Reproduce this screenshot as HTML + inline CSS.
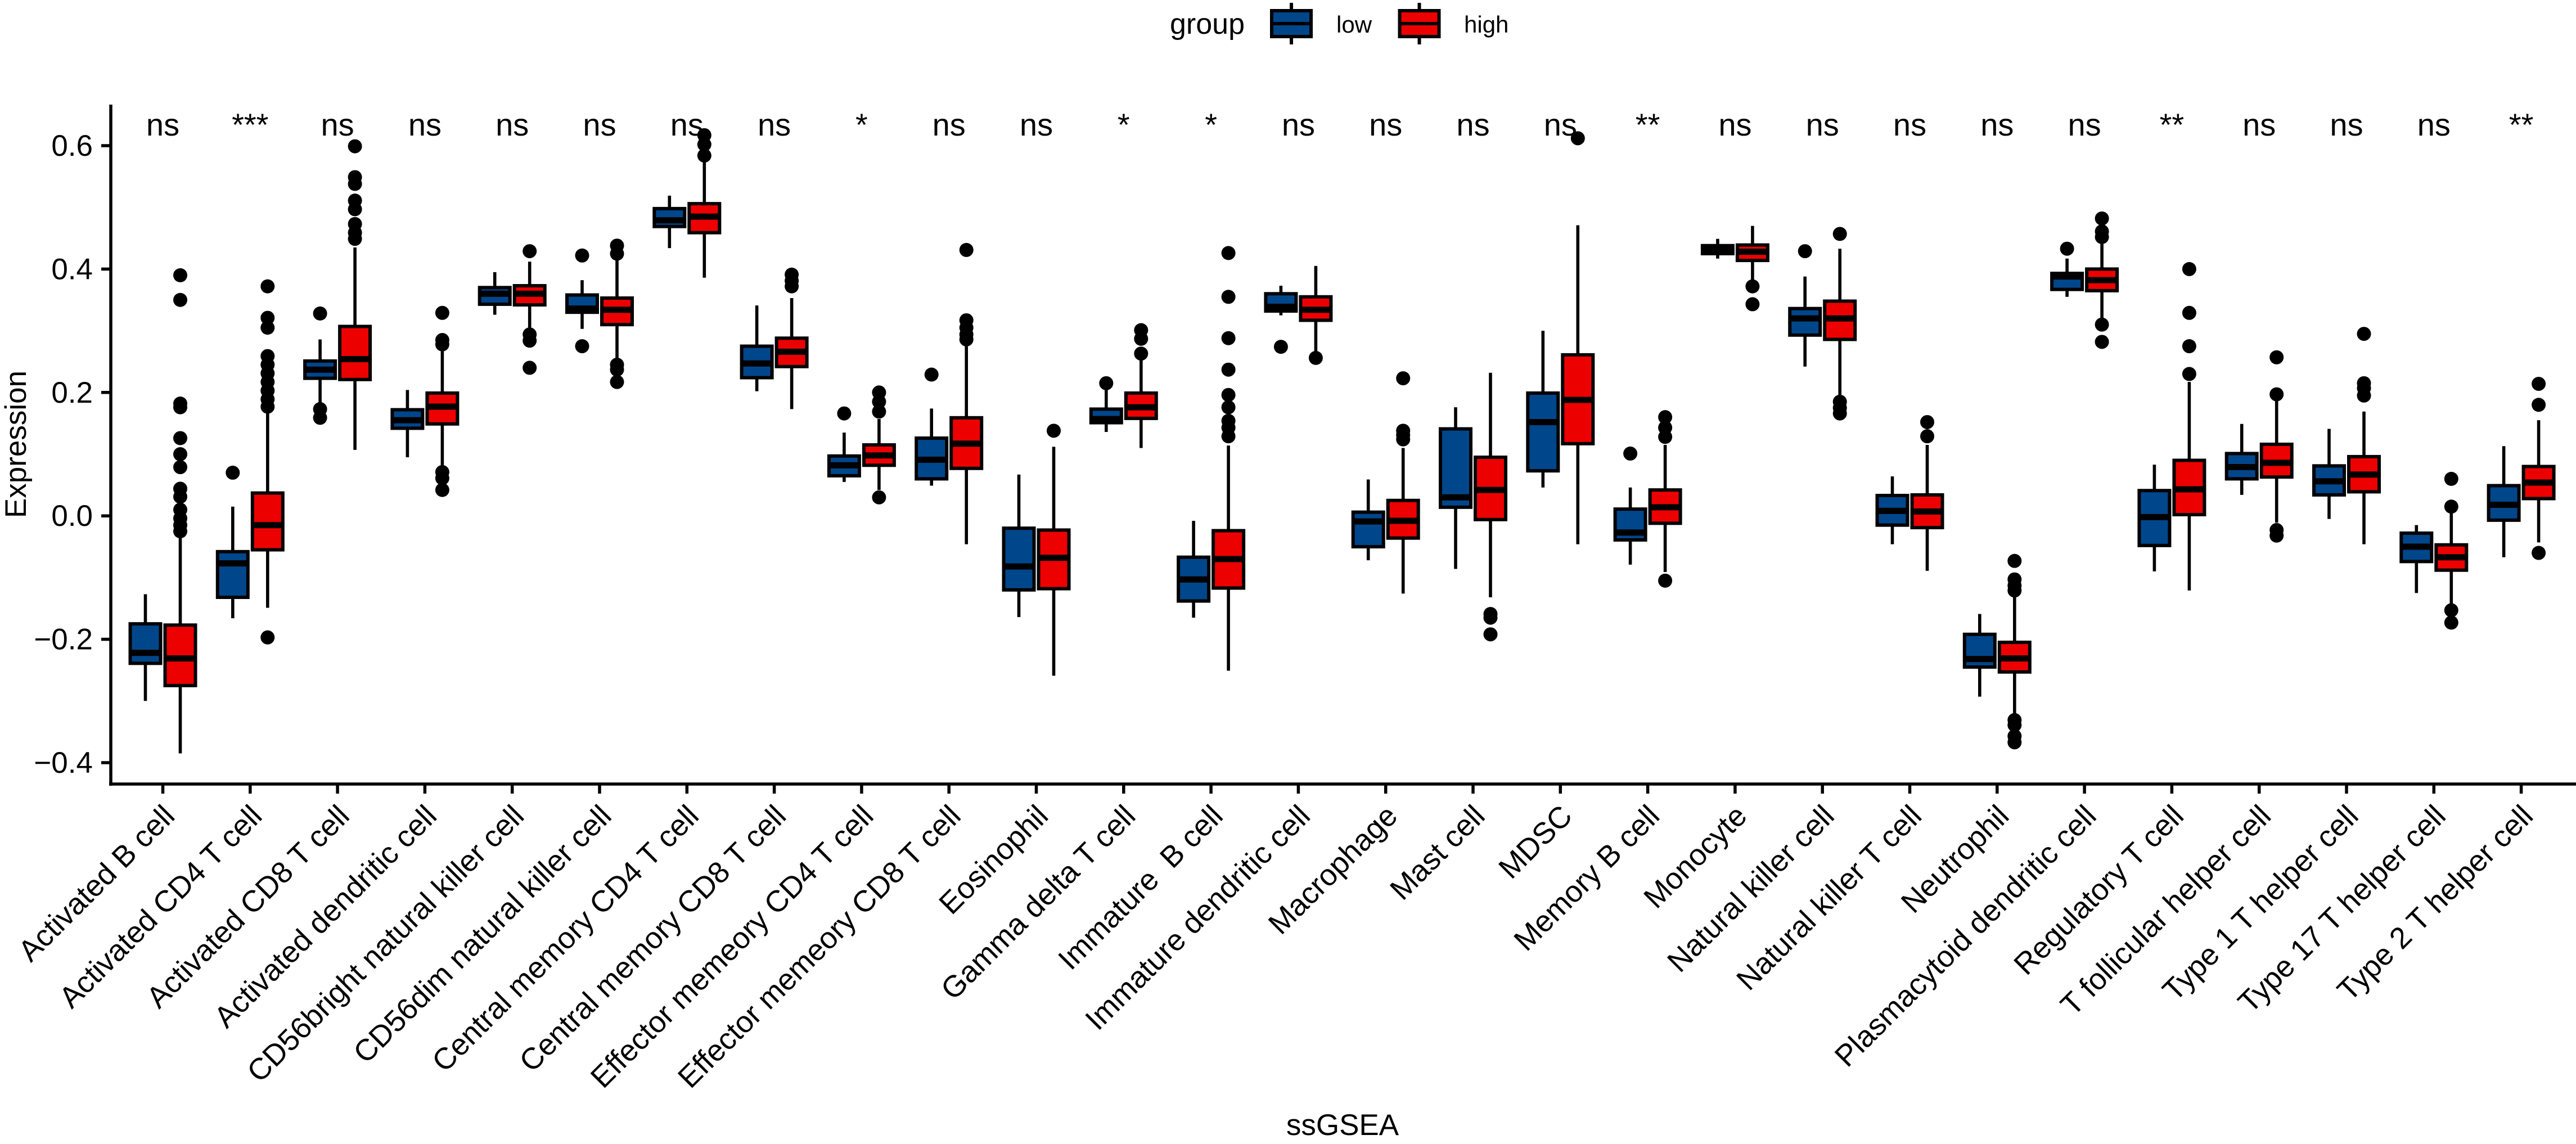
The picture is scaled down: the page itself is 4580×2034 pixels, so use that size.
<!DOCTYPE html>
<html lang="en">
<head>
<meta charset="utf-8">
<title>ssGSEA expression boxplot</title>
<style>
  html, body { margin: 0; padding: 0; background: #fff; }
  svg { display: block; }
  text { font-family: "Liberation Sans", Arial, sans-serif; fill: #000; white-space: pre; }
</style>
</head>
<body>
<svg id="chart" xmlns="http://www.w3.org/2000/svg" width="4580" height="2034" viewBox="0 0 4580 2034">
  <rect x="0" y="0" width="4580" height="2034" fill="#ffffff"/>

  <g>
    <text x="2080" y="60" font-size="52">group</text>
    <g>
      <line x1="2296" x2="2296" y1="5" y2="79" stroke="#000" stroke-width="6"/>
      <rect x="2261" y="19" width="70" height="46" fill="#00468B" stroke="#000" stroke-width="6"/>
      <line x1="2261" x2="2331" y1="42" y2="42" stroke="#000" stroke-width="6"/>
    </g>
    <text x="2376" y="58" font-size="42">low</text>
    <g>
      <line x1="2523.5" x2="2523.5" y1="5" y2="79" stroke="#000" stroke-width="6"/>
      <rect x="2488.5" y="19" width="70" height="46" fill="#ED0000" stroke="#000" stroke-width="6"/>
      <line x1="2488.5" x2="2558.5" y1="42" y2="42" stroke="#000" stroke-width="6"/>
    </g>
    <text x="2603" y="58" font-size="42">high</text>
  </g>

  <g id="marks"></g>
  <g id="axes">
    <line x1="197" x2="197" y1="186" y2="1397" stroke="#000" stroke-width="5.5"/>
    <line x1="194" x2="4580" y1="1394" y2="1394" stroke="#000" stroke-width="5.5"/>
  </g>
  <g id="sig"></g>

  <text transform="translate(46,790) rotate(-90)" text-anchor="middle" font-size="53">Expression</text>
  <text x="2387" y="2018" text-anchor="middle" font-size="53">ssGSEA</text>
</svg>

<script>
// Chart data
const categories = ["Activated B cell","Activated CD4 T cell","Activated CD8 T cell","Activated dendritic cell","CD56bright natural killer cell","CD56dim natural killer cell","Central memory CD4 T cell","Central memory CD8 T cell","Effector memeory CD4 T cell","Effector memeory CD8 T cell","Eosinophil","Gamma delta T cell","Immature  B cell","Immature dendritic cell","Macrophage","Mast cell","MDSC","Memory B cell","Monocyte","Natural killer cell","Natural killer T cell","Neutrophil","Plasmacytoid dendritic cell","Regulatory T cell","T follicular helper cell","Type 1 T helper cell","Type 17 T helper cell","Type 2 T helper cell"];
const significance = ["ns","***","ns","ns","ns","ns","ns","ns","*","ns","ns","*","*","ns","ns","ns","ns","**","ns","ns","ns","ns","ns","**","ns","ns","ns","**"];
const yTicks = [-0.4,-0.2,0,0.2,0.4,0.6];
const yTickLabels = ["\u22120.4","\u22120.2","0.0","0.2","0.4","0.6"];
const groups = ["low","high"];

// each row: whisker low, q1, median, q3, whisker high
const lowStats = [
[-0.300,-0.239,-0.222,-0.175,-0.127],
[-0.166,-0.132,-0.077,-0.058,0.015],
[0.182,0.223,0.237,0.251,0.286],
[0.095,0.142,0.155,0.172,0.204],
[0.326,0.343,0.360,0.370,0.395],
[0.303,0.330,0.336,0.358,0.382],
[0.434,0.469,0.479,0.498,0.519],
[0.202,0.224,0.247,0.275,0.341],
[0.055,0.065,0.082,0.097,0.135],
[0.049,0.060,0.091,0.126,0.174],
[-0.164,-0.120,-0.082,-0.020,0.067],
[0.136,0.151,0.157,0.173,0.207],
[-0.165,-0.138,-0.103,-0.067,-0.008],
[0.325,0.332,0.339,0.360,0.373],
[-0.072,-0.050,-0.009,0.006,0.059],
[-0.086,0.014,0.030,0.141,0.176],
[0.046,0.073,0.152,0.199,0.300],
[-0.079,-0.039,-0.027,0.011,0.046],
[0.417,0.425,0.431,0.438,0.449],
[0.242,0.293,0.320,0.336,0.388],
[-0.046,-0.015,0.008,0.033,0.064],
[-0.293,-0.245,-0.232,-0.192,-0.159],
[0.355,0.367,0.388,0.393,0.417],
[-0.090,-0.048,-0.002,0.041,0.083],
[0.034,0.060,0.079,0.101,0.149],
[-0.005,0.034,0.056,0.081,0.141],
[-0.125,-0.074,-0.050,-0.028,-0.015],
[-0.067,-0.007,0.018,0.049,0.113]
];
const highStats = [
[-0.385,-0.275,-0.231,-0.177,-0.036],
[-0.149,-0.055,-0.015,0.037,0.168],
[0.107,0.221,0.254,0.307,0.435],
[0.080,0.149,0.177,0.199,0.268],
[0.305,0.342,0.360,0.373,0.412],
[0.252,0.310,0.334,0.353,0.417],
[0.386,0.459,0.485,0.506,0.575],
[0.173,0.242,0.266,0.288,0.353],
[0.042,0.082,0.098,0.115,0.157],
[-0.046,0.077,0.117,0.159,0.277],
[-0.259,-0.118,-0.068,-0.023,0.112],
[0.110,0.158,0.176,0.199,0.252],
[-0.251,-0.117,-0.070,-0.024,0.114],
[0.266,0.317,0.334,0.355,0.405],
[-0.126,-0.036,-0.008,0.025,0.110],
[-0.132,-0.006,0.042,0.095,0.232],
[-0.046,0.117,0.188,0.261,0.471],
[-0.091,-0.012,0.014,0.042,0.115],
[0.379,0.414,0.428,0.439,0.470],
[0.193,0.286,0.320,0.348,0.433],
[-0.089,-0.019,0.007,0.034,0.115],
[-0.324,-0.253,-0.231,-0.205,-0.127],
[0.319,0.365,0.382,0.400,0.442],
[-0.121,0.002,0.043,0.090,0.217],
[-0.011,0.063,0.086,0.116,0.189],
[-0.046,0.039,0.067,0.096,0.169],
[-0.145,-0.088,-0.067,-0.047,0.006],
[-0.043,0.028,0.054,0.080,0.155]
];
const lowOutliers = [
[],
[0.070],
[0.328,0.173,0.159],
[],
[],
[0.422,0.275],
[],
[],
[0.166],
[0.229],
[],
[0.215],
[],
[0.274],
[],
[],
[],
[0.101],
[],
[0.429],
[],
[],
[0.433],
[],
[],
[],
[],
[]
];
const highOutliers = [
[0.390,0.350,0.182,0.176,0.126,0.100,0.079,0.044,0.031,0.010,-0.004,-0.015,-0.025],
[0.372,0.321,0.305,0.259,0.245,0.231,0.217,0.203,0.189,0.177,-0.197],
[0.599,0.549,0.538,0.511,0.497,0.473,0.459,0.449],
[0.329,0.285,0.278,0.071,0.061,0.042],
[0.429,0.294,0.284,0.240],
[0.438,0.425,0.245,0.237,0.217],
[0.617,0.602,0.584],
[0.391,0.381,0.372],
[0.200,0.185,0.169,0.030],
[0.431,0.317,0.305,0.294,0.286],
[0.138],
[0.301,0.287,0.263],
[0.426,0.355,0.288,0.237,0.196,0.176,0.154,0.143,0.129],
[0.256],
[0.223,0.138,0.131,0.124],
[-0.159,-0.165,-0.192],
[0.612],
[0.160,0.143,0.128,-0.105],
[0.372,0.343],
[0.457,0.185,0.175,0.166],
[0.152,0.129],
[-0.073,-0.103,-0.113,-0.121,-0.331,-0.339,-0.357,-0.367],
[0.482,0.461,0.452,0.310,0.282],
[0.400,0.329,0.275,0.230],
[0.257,0.197,-0.023,-0.032],
[0.295,0.215,0.207,0.195],
[0.060,0.015,-0.153,-0.173],
[0.214,0.180,-0.060]
];

const SVG_NS = "http://www.w3.org/2000/svg";
function xScale(i) { return 289.5 + 155.3 * i; }
function yScale(v) { return 259 + (0.6 - v) * 1097; }

const groupOffset = { low: -31, high: 31 };
const groupFill = { low: "#00468B", high: "#ED0000" };
const boxWidth = 54;

function make(tag, attrs, parent) {
  const el = document.createElementNS(SVG_NS, tag);
  for (const k in attrs) el.setAttribute(k, attrs[k]);
  parent.appendChild(el);
  return el;
}

const marks = document.getElementById("marks");
const axes = document.getElementById("axes");
const sig = document.getElementById("sig");

function drawBox(group, i, stats, outliers) {
  const cx = xScale(i) + groupOffset[group];
  const g = make("g", {}, marks);
  
  

  const lo = stats[0], q1 = stats[1], med = stats[2], q3 = stats[3], hi = stats[4];

  const whisker = make("line", { x1: cx, x2: cx, y1: yScale(lo), y2: yScale(hi), stroke: "#000", "stroke-width": 5.6 }, g);
  
  

  const box = make("rect", { x: cx - boxWidth / 2, y: yScale(q3), width: boxWidth, height: yScale(q1) - yScale(q3), fill: groupFill[group], stroke: "#000", "stroke-width": 6 }, g);
  
  

  const median = make("line", { x1: cx - boxWidth / 2, x2: cx + boxWidth / 2, y1: yScale(med), y2: yScale(med), stroke: "#000", "stroke-width": 11 }, g);
  
  

  outliers.forEach(function (v) {
    const dot = make("circle", { cx: cx, cy: yScale(v), r: 12.5, fill: "#000" }, g);
    
    
  });
}

categories.forEach(function (name, i) {
  drawBox("low", i, lowStats[i], lowOutliers[i]);
  drawBox("high", i, highStats[i], highOutliers[i]);

  const x = xScale(i);
  const tick = make("line", { x1: x, x2: x, y1: 1394, y2: 1411, stroke: "#000", "stroke-width": 5.5 }, axes);
  
  

  const label = make("text", { transform: "translate(" + (x + 24) + ",1454) rotate(-45)", "text-anchor": "end", "font-size": 53.5 }, axes);
  
  
  label.textContent = name;

  const s = make("text", { x: x, y: 241, "text-anchor": "middle", "font-size": 56 }, sig);
  
  
  s.textContent = significance[i];
});

yTicks.forEach(function (v, i) {
  const y = yScale(v);
  const tick = make("line", { x1: 180, x2: 197, y1: y, y2: y, stroke: "#000", "stroke-width": 5.5 }, axes);
  
  

  const label = make("text", { x: 165, y: y + 18, "text-anchor": "end", "font-size": 53 }, axes);
  
  
  label.textContent = yTickLabels[i];
});
</script>
</body>
</html>
